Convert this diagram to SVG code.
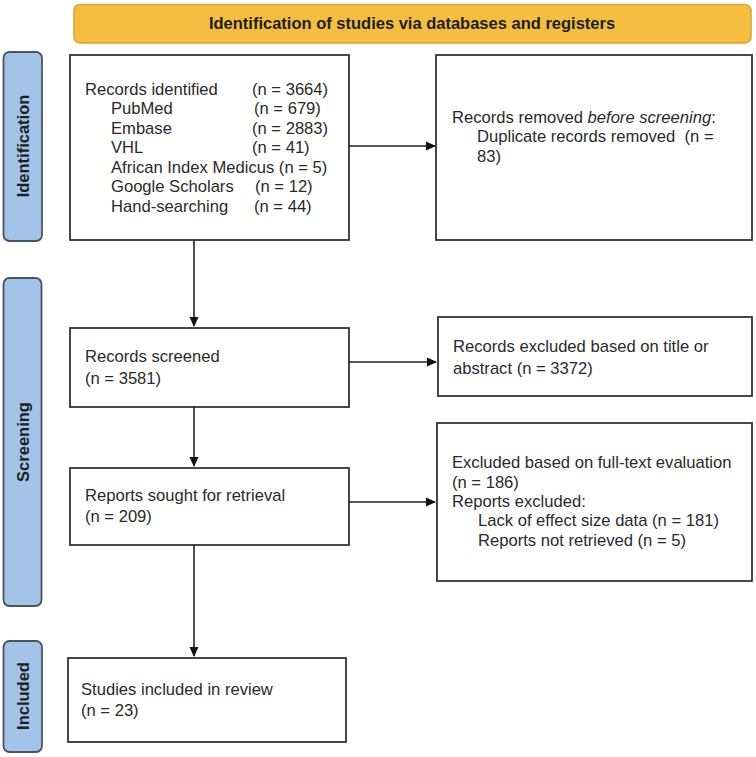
<svg xmlns="http://www.w3.org/2000/svg" width="756" height="757" viewBox="0 0 756 757">
<defs>
<marker id="arr" markerWidth="10" markerHeight="10" refX="9" refY="5" orient="auto" markerUnits="userSpaceOnUse">
<path d="M0,0.5 L10,5 L0,9.5 Z" fill="#111"/>
</marker>
<style>
.box{fill:#fff;stroke:#333;stroke-width:1.8}
.side{fill:#a3c4e8;stroke:#4a5360;stroke-width:1.8}
.hdr{fill:#f5be43;stroke:#dca235;stroke-width:1.5}
.t{font-family:"Liberation Sans",Arial,sans-serif;font-size:16.6px;fill:#2a2a2a}
.b{font-family:"Liberation Sans",Arial,sans-serif;font-size:16.5px;font-weight:bold;fill:#1e1e1e}
.c{fill:none;stroke:#222;stroke-width:1.6}
</style>
</defs>
<rect width="756" height="757" fill="#fff"/>

<g id="header">
<rect class="hdr" x="74" y="4.5" width="677" height="38.5" rx="6"/>
<text class="b" x="412" y="29" text-anchor="middle">Identification of studies via databases and registers</text>
</g>

<g id="side-identification">
<rect class="side" x="3.5" y="52" width="38.5" height="189" rx="6"/>
<text class="b" transform="translate(29,146) rotate(-90)" text-anchor="middle">Identification</text>
</g>
<g id="side-screening">
<rect class="side" x="3.5" y="278" width="38" height="328" rx="6"/>
<text class="b" transform="translate(29,442) rotate(-90)" text-anchor="middle">Screening</text>
</g>
<g id="side-included">
<rect class="side" x="3.5" y="641" width="38.5" height="111" rx="6"/>
<text class="b" transform="translate(29,696) rotate(-90)" text-anchor="middle">Included</text>
</g>

<g id="records-identified">
<rect class="box" x="70" y="55" width="279" height="185"/>
<text class="t" x="85" y="95">Records identified</text><text class="t" x="252" y="95">(n = 3664)</text>
<text class="t" x="111" y="114">PubMed</text><text class="t" x="254" y="114">(n = 679)</text>
<text class="t" x="111" y="134">Embase</text><text class="t" x="252" y="134">(n = 2883)</text>
<text class="t" x="111" y="153">VHL</text><text class="t" x="252" y="153">(n = 41)</text>
<text class="t" x="111" y="173">African Index Medicus (n = 5)</text>
<text class="t" x="111" y="192">Google Scholars</text><text class="t" x="255" y="192">(n = 12)</text>
<text class="t" x="111" y="212">Hand-searching</text><text class="t" x="254" y="212">(n = 44)</text>
</g>

<g id="records-removed">
<rect class="box" x="436" y="55" width="316" height="185"/>
<text class="t" x="452" y="123">Records removed <tspan font-style="italic">before screening</tspan>:</text>
<text class="t" x="477" y="142" xml:space="preserve" style="white-space:pre">Duplicate records removed  (n =</text>
<text class="t" x="477" y="162">83)</text>
</g>

<g id="records-screened">
<rect class="box" x="70" y="328" width="279" height="79"/>
<text class="t" x="85" y="362">Records screened</text>
<text class="t" x="85" y="384">(n = 3581)</text>
</g>

<g id="records-excluded">
<rect class="box" x="438" y="317" width="314" height="79"/>
<text class="t" x="453" y="352">Records excluded based on title or</text>
<text class="t" x="453" y="374">abstract (n = 3372)</text>
</g>

<g id="reports-sought">
<rect class="box" x="70" y="468" width="279" height="77"/>
<text class="t" x="85" y="501">Reports sought for retrieval</text>
<text class="t" x="85" y="522">(n = 209)</text>
</g>

<g id="reports-excluded">
<rect class="box" x="437" y="423" width="315" height="158"/>
<text class="t" x="452" y="468">Excluded based on full-text evaluation</text>
<text class="t" x="452" y="488">(n = 186)</text>
<text class="t" x="452" y="507">Reports excluded:</text>
<text class="t" x="478" y="526">Lack of effect size data (n = 181)</text>
<text class="t" x="478" y="546">Reports not retrieved (n = 5)</text>
</g>

<g id="studies-included">
<rect class="box" x="68" y="658" width="278" height="84"/>
<text class="t" x="81" y="695">Studies included in review</text>
<text class="t" x="81" y="716">(n = 23)</text>
</g>

<g id="connectors">
<line class="c" x1="349" y1="146" x2="435" y2="146" marker-end="url(#arr)"/>
<line class="c" x1="194" y1="240" x2="194" y2="326" marker-end="url(#arr)"/>
<line class="c" x1="349" y1="362" x2="436" y2="362" marker-end="url(#arr)"/>
<line class="c" x1="194" y1="407" x2="194" y2="466" marker-end="url(#arr)"/>
<line class="c" x1="349" y1="502" x2="435" y2="502" marker-end="url(#arr)"/>
<line class="c" x1="194" y1="545" x2="194" y2="656" marker-end="url(#arr)"/>
</g>
</svg>
